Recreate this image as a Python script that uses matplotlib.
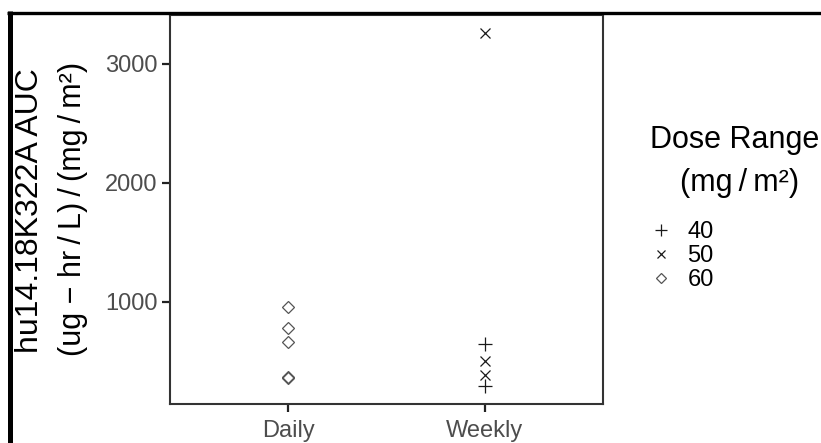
import matplotlib
matplotlib.use("Agg")
import matplotlib.pyplot as plt
from matplotlib.lines import Line2D
import numpy as np

plt.rcParams['font.family'] = ['Liberation Sans', 'DejaVu Sans']

categories = ["Daily", "Weekly"]
dose_levels = ["40", "50", "60"]
# (schedule, dose, AUC)
schedule = ["Daily", "Daily", "Daily", "Daily", "Daily",
            "Weekly", "Weekly", "Weekly", "Weekly", "Weekly"]
dose = ["60", "60", "60", "60", "60",
        "50", "40", "50", "50", "40"]
auc = [953, 782, 665, 368, 360,
       3260, 643, 503, 386, 289]

markers = {"40": "+", "50": "x", "60": "D"}
msizes = {"40": 9.5, "50": 7.0, "60": 6.3}
colors = {"40": "#1a1a1a", "50": "#1a1a1a", "60": "#555555"}

W, H = 821, 443
fig = plt.figure(figsize=(W / 100, H / 100), dpi=100)
ax = fig.add_axes([170 / W, 1 - 404 / H, (603 - 170) / W, (404 - 15) / H])

xpos = {c: i + 1 for i, c in enumerate(categories)}
for lvl in dose_levels:
    xs = [xpos[s] for s, d in zip(schedule, dose) if d == lvl]
    ys = [a for a, d in zip(auc, dose) if d == lvl]
    ax.plot(xs, ys, linestyle="none", marker=markers[lvl], markersize=msizes[lvl],
            markerfacecolor="none", markeredgecolor=colors[lvl], markeredgewidth=0.9)

ax.set_xlim(0.4, 2.6)
lo, hi = min(auc), max(auc)
r = hi - lo
ax.set_ylim(lo - 0.05 * r, hi + 0.05 * r)
ax.set_xticks([1, 2])
ax.set_xticklabels(categories)
ax.set_yticks([1000, 2000, 3000])
ax.tick_params(axis="both", direction="out", length=5.5, width=1.6, color="#222222",
               labelsize=17, labelcolor="#4d4d4d", pad=3.5)
ax.tick_params(axis="x", pad=6)
for sp in ax.spines.values():
    sp.set_linewidth(1.5)
    sp.set_color("#333333")

# y-axis title (two lines)
fig.text(30 / W, 1 - 211 / H, "hu14.18K322A AUC", rotation=90, ha="center", va="center",
         fontsize=23, color="black")
fig.text(73 / W, 1 - 209 / H, "(ug \u2212 hr\u2009/\u2009L)\u2009/\u2009(mg\u2009/\u2009m\u00b2)",
         rotation=90, ha="center", va="center", fontsize=22, color="black")

# legend title
fig.text(735 / W, 1 - 140 / H, "Dose Range", ha="center", va="center", fontsize=22)
fig.text(740 / W, 1 - 183 / H, "(mg\u2009/\u2009m\u00b2)", ha="center", va="center", fontsize=22)

handles = [Line2D([], [], linestyle="none", marker=markers[l], markersize=msizes[l] * 0.85,
                  markerfacecolor="none", markeredgecolor=colors[l], markeredgewidth=0.9)
           for l in dose_levels]
leg = fig.legend(handles, dose_levels, loc="upper left",
                 bbox_to_anchor=(652 / W, 1 - 221 / H), bbox_transform=fig.transFigure,
                 frameon=False, fontsize=17, borderpad=0, borderaxespad=0,
                 handlelength=0.8, handletextpad=0.7, labelspacing=0.08)

# black border at top and left
fig.add_artist(Line2D([7 / W, 1], [1 - 12.5 / H, 1 - 12.5 / H], transform=fig.transFigure,
                      color="black", linewidth=2.4, solid_capstyle="butt"))
fig.add_artist(Line2D([9.5 / W, 9.5 / W], [0, 1 - 11 / H], transform=fig.transFigure,
                      color="black", linewidth=3.6, solid_capstyle="butt"))

fig.savefig("out.png", dpi=100)
